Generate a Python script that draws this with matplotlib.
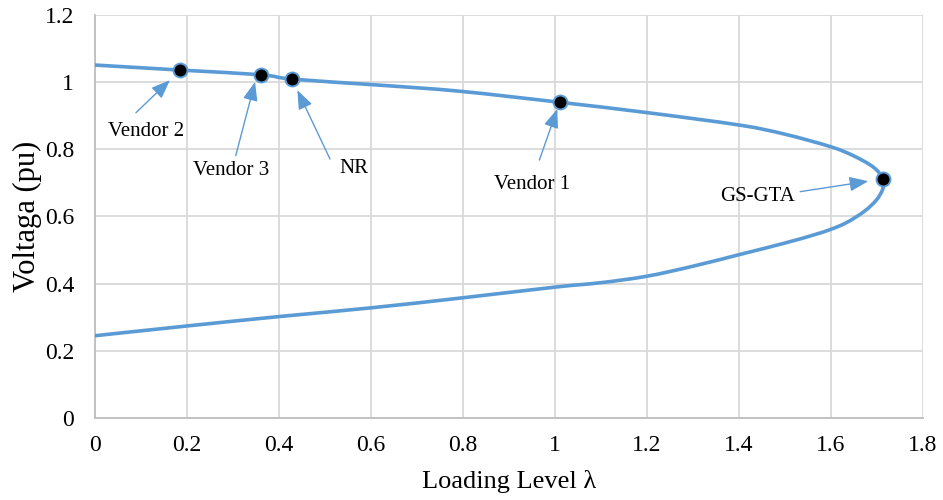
import numpy as np
import matplotlib.pyplot as plt
from matplotlib.path import Path
from matplotlib.patches import PathPatch

# PV curve (loading level vs voltage), upper branch then lower branch
lam = [0, 0.185, 0.361, 0.429, 0.62, 0.793, 1.011, 1.202, 1.402, 1.50, 1.601,
       1.650, 1.692, 1.714, 1.712, 1.698, 1.672, 1.634, 1.600, 1.562, 1.50,
       1.402, 1.30, 1.199, 1.10, 1.002, 0.8, 0.6, 0.4, 0.2, 0]
volt = [1.051, 1.036, 1.022, 1.009, 0.991, 0.973, 0.940, 0.909, 0.872, 0.845, 0.807,
        0.780, 0.747, 0.711, 0.680, 0.648, 0.615, 0.582, 0.562, 0.545, 0.521,
        0.487, 0.452, 0.422, 0.403, 0.390, 0.358, 0.328, 0.302, 0.274, 0.245]

# solution points found by each method
methods = ['Vendor 2', 'Vendor 3', 'NR', 'Vendor 1', 'GS-GTA']
sol_lam = [0.185, 0.361, 0.429, 1.011, 1.714]
sol_volt = [1.036, 1.022, 1.009, 0.940, 0.711]

# arrow tips, arrow tails and label centres
tip_xy = [(0.163, 1.006), (0.348, 1.001), (0.440, 0.976), (1.005, 0.920), (1.681, 0.705)]
tail_xy = [(0.089, 0.909), (0.306, 0.781), (0.511, 0.771), (0.966, 0.768), (1.533, 0.674)]
label_xy = [(0.111, 0.854), (0.296, 0.738), (0.563, 0.744), (0.950, 0.696), (1.441, 0.661)]

blue = '#5B9BD5'
plt.rcParams['font.family'] = ['Liberation Serif', 'DejaVu Serif']


def smooth_path(xs, ys):
    # smoothed line through the points, cubic Bezier segments (Catmull-Rom style)
    p = np.column_stack([xs, ys]).astype(float)
    ext = np.vstack([p[0], p, p[-1]])
    verts = [p[0]]
    codes = [Path.MOVETO]
    for i in range(len(p) - 1):
        p0, p1, p2, p3 = ext[i], ext[i + 1], ext[i + 2], ext[i + 3]
        c1 = p1 + (p2 - p0) / 6.0
        c2 = p2 - (p3 - p1) / 6.0
        verts += [c1, c2, p2]
        codes += [Path.CURVE4] * 3
    return Path(verts, codes)


fig = plt.figure(figsize=(9.43, 5.0), dpi=100)
ax = fig.add_axes([0.1007, 0.164, 0.8781, 0.806])

curve = PathPatch(smooth_path(lam, volt), facecolor='none', edgecolor=blue,
                  linewidth=2.6, capstyle='round', joinstyle='round', zorder=3)
ax.add_patch(curve)
ax.plot(sol_lam, sol_volt, linestyle='none', marker='o', markersize=10,
        markerfacecolor='black', markeredgecolor=blue, markeredgewidth=1.4, zorder=4)

for name, tip, tail, pos in zip(methods, tip_xy, tail_xy, label_xy):
    ax.annotate('', xy=tip, xytext=tail,
                arrowprops=dict(arrowstyle='-|>,head_length=1.15,head_width=0.45',
                                color=blue, linewidth=1.0, shrinkA=0, shrinkB=0),
                zorder=5)
    ax.text(pos[0], pos[1], name, ha='center', va='center', fontsize=15, zorder=5)

ax.set_xlim(0, 1.8)
ax.set_ylim(0, 1.2)
ax.set_xticks([0, 0.2, 0.4, 0.6, 0.8, 1.0, 1.2, 1.4, 1.6, 1.8])
ax.set_xticklabels(['0', '0.2', '0.4', '0.6', '0.8', '1', '1.2', '1.4', '1.6', '1.8'])
ax.set_yticks([0, 0.2, 0.4, 0.6, 0.8, 1.0, 1.2])
ax.set_yticklabels(['0', '0.2', '0.4', '0.6', '0.8', '1', '1.2'])
ax.tick_params(length=0, labelsize=17, pad=12)
ax.tick_params(axis='y', pad=15)
ax.grid(True, color='#D9D9D9', linewidth=1.3)
ax.set_axisbelow(True)
for side in ['top', 'right']:
    ax.spines[side].set_visible(False)
for side in ['left', 'bottom']:
    ax.spines[side].set_color('#BFBFBF')
    ax.spines[side].set_linewidth(1.3)

ax.set_xlabel('Loading Level λ', fontsize=19, labelpad=10)
ax.set_ylabel('Voltaga (pu)', fontsize=22, labelpad=2)

fig.savefig('out.png', dpi=100)
